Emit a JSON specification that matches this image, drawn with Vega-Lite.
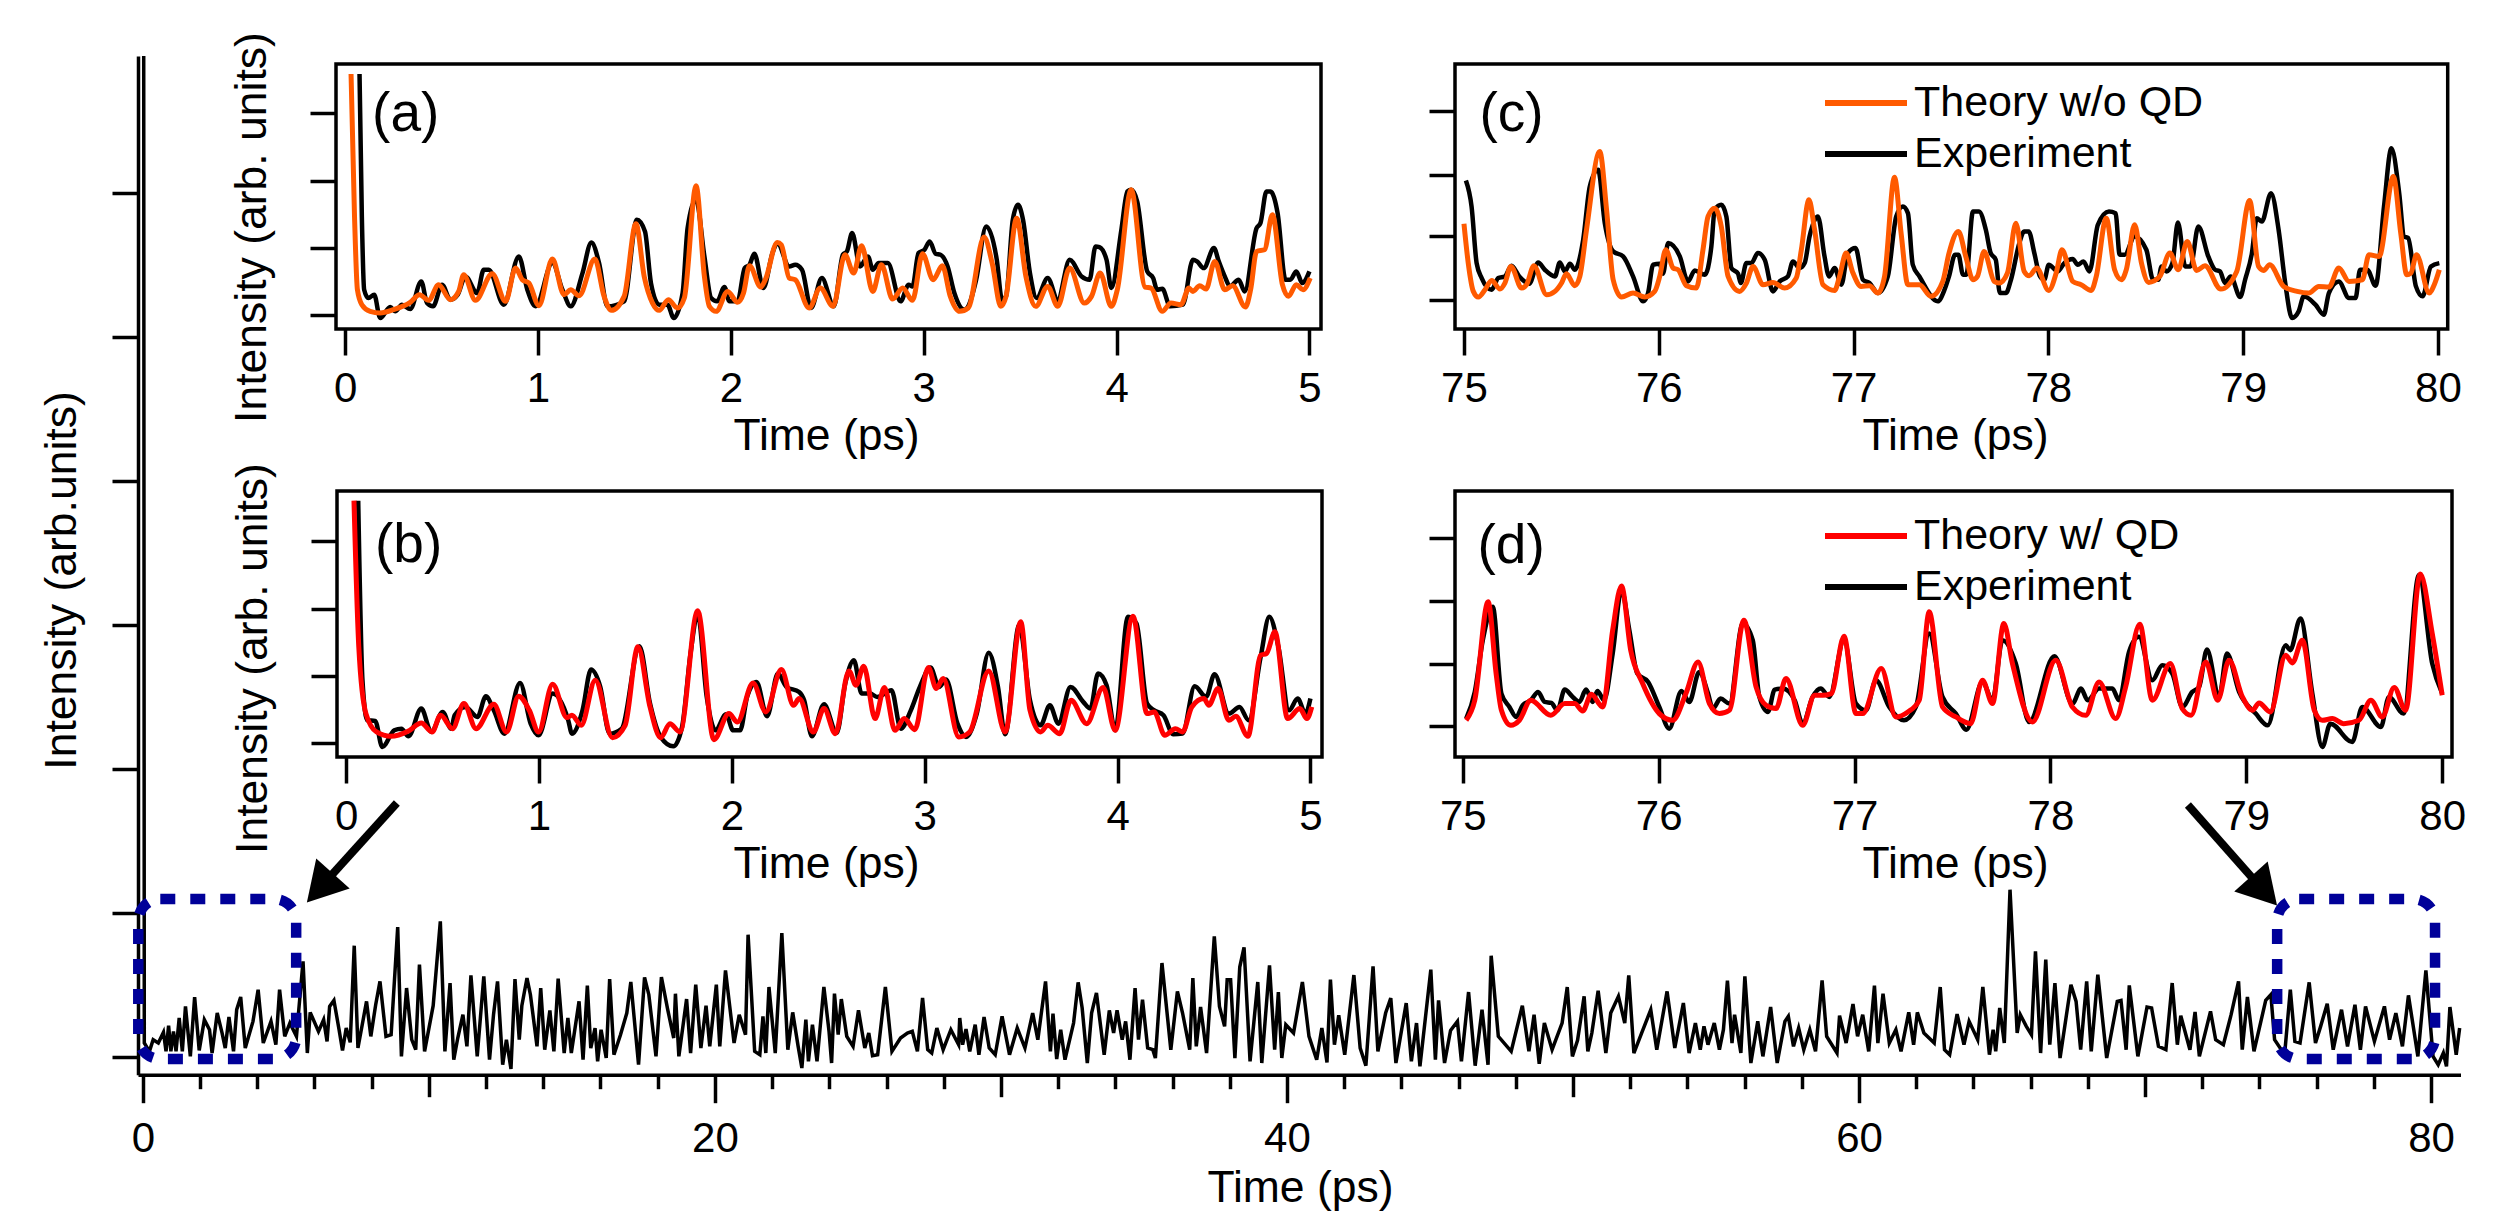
{
"$schema":"https://vega.github.io/schema/vega-lite/v6.json",
"width":2500,"height":1222,"padding":0,"autosize":{"type":"none"},"background":"white",
"config":{"view":{"stroke":null},
"axis":{"labelFont":"Liberation Sans","titleFont":"Liberation Sans","labelFontSize":42,"titleFontSize":44.5,"titleFontWeight":"normal","tickColor":"black","tickWidth":3.5,"tickSize":26,"labelColor":"black","titleColor":"black","grid":false,"domain":false,"labelFlush":false,"labelOverlap":false,"labelPadding":13,"titleBaseline":"alphabetic","titleAnchor":null,"titleAlign":"center"},
"text":{"font":"Liberation Sans","fontSize":55,"baseline":"alphabetic","align":"left","color":"black"},
"legend":{"labelFont":"Liberation Sans","labelFontSize":43,"labelColor":"black","labelLimit":600,"padding":0,"symbolType":"stroke","symbolSize":6724,"symbolStrokeWidth":6,"labelOffset":4,"rowPadding":3,"clipHeight":48,"orient":"none"}},
"datasets":{
"main":[{"t":0.03,"v":3003},{"t":0.05,"v":42},{"t":0.23,"v":17},{"t":0.36,"v":52},{"t":0.54,"v":42},{"t":0.72,"v":74},{"t":0.81,"v":17},{"t":0.9,"v":94},{"t":0.98,"v":17},{"t":1.07,"v":77},{"t":1.16,"v":17},{"t":1.27,"v":117},{"t":1.38,"v":17},{"t":1.49,"v":152},{"t":1.66,"v":2},{"t":1.81,"v":180},{"t":1.97,"v":20},{"t":2.15,"v":112},{"t":2.33,"v":82},{"t":2.42,"v":12},{"t":2.6,"v":132},{"t":2.77,"v":72},{"t":2.88,"v":27},{"t":3.01,"v":120},{"t":3.17,"v":17},{"t":3.28,"v":142},{"t":3.42,"v":180},{"t":3.58,"v":27},{"t":3.85,"v":107},{"t":4.03,"v":202},{"t":4.21,"v":42},{"t":4.48,"v":107},{"t":4.65,"v":37},{"t":4.78,"v":202},{"t":4.96,"v":62},{"t":5.14,"v":102},{"t":5.37,"v":62},{"t":5.6,"v":287},{"t":5.75,"v":12},{"t":5.85,"v":134},{"t":6.14,"v":77},{"t":6.32,"v":112},{"t":6.44,"v":47},{"t":6.53,"v":152},{"t":6.68,"v":170},{"t":6.86,"v":82},{"t":6.98,"v":20},{"t":7.11,"v":87},{"t":7.25,"v":44},{"t":7.39,"v":334},{"t":7.52,"v":27},{"t":7.82,"v":167},{"t":7.97,"v":62},{"t":8.14,"v":157},{"t":8.29,"v":227},{"t":8.5,"v":62},{"t":8.68,"v":67},{"t":8.91,"v":390},{"t":9.04,"v":2},{"t":9.22,"v":207},{"t":9.4,"v":52},{"t":9.54,"v":22},{"t":9.67,"v":277},{"t":9.85,"v":17},{"t":10.15,"v":154},{"t":10.4,"v":407},{"t":10.56,"v":17},{"t":10.74,"v":222},{"t":10.87,"v":-8},{"t":11.01,"v":57},{"t":11.19,"v":127},{"t":11.33,"v":32},{"t":11.47,"v":245},{"t":11.69,"v":2},{"t":11.92,"v":242},{"t":12.12,"v":-8},{"t":12.26,"v":127},{"t":12.4,"v":227},{"t":12.58,"v":-23},{"t":12.71,"v":52},{"t":12.87,"v":-36},{"t":13.01,"v":234},{"t":13.16,"v":52},{"t":13.25,"v":154},{"t":13.43,"v":237},{"t":13.55,"v":187},{"t":13.78,"v":32},{"t":13.91,"v":207},{"t":14.05,"v":22},{"t":14.23,"v":140},{"t":14.37,"v":17},{"t":14.52,"v":235},{"t":14.73,"v":12},{"t":14.86,"v":117},{"t":14.98,"v":12},{"t":15.25,"v":167},{"t":15.39,"v":-8},{"t":15.54,"v":214},{"t":15.66,"v":27},{"t":15.81,"v":87},{"t":15.9,"v":-13},{"t":16.02,"v":82},{"t":16.2,"v":-3},{"t":16.32,"v":234},{"t":16.47,"v":7},{"t":16.7,"v":67},{"t":16.92,"v":132},{"t":17.06,"v":225},{"t":17.33,"v":-23},{"t":17.54,"v":239},{"t":17.69,"v":187},{"t":17.94,"v":2},{"t":18.13,"v":240},{"t":18.35,"v":142},{"t":18.56,"v":57},{"t":18.62,"v":190},{"t":18.74,"v":2},{"t":19.01,"v":174},{"t":19.15,"v":12},{"t":19.33,"v":217},{"t":19.51,"v":27},{"t":19.69,"v":154},{"t":19.82,"v":32},{"t":20.05,"v":217},{"t":20.17,"v":32},{"t":20.37,"v":260},{"t":20.67,"v":42},{"t":20.85,"v":127},{"t":21.07,"v":67},{"t":21.16,"v":367},{"t":21.39,"v":17},{"t":21.57,"v":7},{"t":21.68,"v":122},{"t":21.78,"v":12},{"t":21.89,"v":210},{"t":22.11,"v":12},{"t":22.34,"v":372},{"t":22.55,"v":22},{"t":22.72,"v":134},{"t":22.91,"v":32},{"t":23.04,"v":-33},{"t":23.18,"v":112},{"t":23.27,"v":-13},{"t":23.41,"v":97},{"t":23.57,"v":-13},{"t":23.81,"v":210},{"t":23.99,"v":77},{"t":24.08,"v":-18},{"t":24.18,"v":190},{"t":24.31,"v":67},{"t":24.42,"v":174},{"t":24.61,"v":62},{"t":24.83,"v":32},{"t":25.02,"v":140},{"t":25.24,"v":27},{"t":25.38,"v":72},{"t":25.51,"v":4},{"t":25.69,"v":7},{"t":25.96,"v":210},{"t":26.19,"v":17},{"t":26.49,"v":57},{"t":26.73,"v":72},{"t":26.9,"v":77},{"t":27.08,"v":17},{"t":27.26,"v":177},{"t":27.44,"v":22},{"t":27.58,"v":12},{"t":27.76,"v":87},{"t":27.98,"v":22},{"t":28.25,"v":82},{"t":28.52,"v":37},{"t":28.56,"v":117},{"t":28.66,"v":37},{"t":28.78,"v":84},{"t":28.91,"v":17},{"t":29.1,"v":97},{"t":29.23,"v":7},{"t":29.41,"v":120},{"t":29.59,"v":27},{"t":29.8,"v":7},{"t":30.04,"v":122},{"t":30.3,"v":7},{"t":30.57,"v":87},{"t":30.84,"v":27},{"t":31.11,"v":132},{"t":31.29,"v":52},{"t":31.56,"v":227},{"t":31.73,"v":17},{"t":31.82,"v":130},{"t":31.95,"v":-6},{"t":32.09,"v":82},{"t":32.24,"v":-8},{"t":32.54,"v":102},{"t":32.7,"v":224},{"t":32.84,"v":147},{"t":33.02,"v":-18},{"t":33.17,"v":132},{"t":33.34,"v":192},{"t":33.61,"v":7},{"t":33.79,"v":140},{"t":33.94,"v":72},{"t":34.06,"v":140},{"t":34.24,"v":52},{"t":34.36,"v":107},{"t":34.51,"v":-8},{"t":34.69,"v":207},{"t":34.81,"v":52},{"t":34.95,"v":172},{"t":35.13,"v":27},{"t":35.31,"v":22},{"t":35.4,"v":-3},{"t":35.63,"v":282},{"t":35.94,"v":22},{"t":36.17,"v":197},{"t":36.35,"v":132},{"t":36.6,"v":22},{"t":36.71,"v":237},{"t":36.83,"v":32},{"t":36.98,"v":150},{"t":37.19,"v":12},{"t":37.46,"v":362},{"t":37.64,"v":152},{"t":37.82,"v":92},{"t":37.91,"v":232},{"t":38.03,"v":232},{"t":38.18,"v":-3},{"t":38.35,"v":270},{"t":38.5,"v":329},{"t":38.71,"v":-13},{"t":38.98,"v":225},{"t":39.12,"v":-18},{"t":39.39,"v":275},{"t":39.57,"v":22},{"t":39.7,"v":195},{"t":39.82,"v":-3},{"t":39.96,"v":97},{"t":40.23,"v":72},{"t":40.54,"v":225},{"t":40.77,"v":62},{"t":41.04,"v":-8},{"t":41.22,"v":87},{"t":41.4,"v":-16},{"t":41.52,"v":232},{"t":41.66,"v":37},{"t":41.81,"v":125},{"t":42.02,"v":7},{"t":42.34,"v":246},{"t":42.56,"v":27},{"t":42.76,"v":-26},{"t":43.01,"v":272},{"t":43.18,"v":17},{"t":43.45,"v":132},{"t":43.63,"v":177},{"t":43.81,"v":-18},{"t":44.17,"v":162},{"t":44.35,"v":-13},{"t":44.53,"v":102},{"t":44.65,"v":-28},{"t":45.03,"v":262},{"t":45.19,"v":-8},{"t":45.3,"v":170},{"t":45.51,"v":-18},{"t":45.72,"v":80},{"t":45.96,"v":107},{"t":46.1,"v":-13},{"t":46.35,"v":195},{"t":46.58,"v":-26},{"t":46.82,"v":142},{"t":47.03,"v":-23},{"t":47.14,"v":304},{"t":47.39,"v":62},{"t":47.84,"v":17},{"t":48.23,"v":154},{"t":48.46,"v":17},{"t":48.64,"v":127},{"t":48.82,"v":-20},{"t":49,"v":102},{"t":49.27,"v":22},{"t":49.62,"v":102},{"t":49.8,"v":210},{"t":49.98,"v":2},{"t":50.16,"v":50},{"t":50.39,"v":182},{"t":50.52,"v":17},{"t":50.66,"v":72},{"t":50.88,"v":199},{"t":51.15,"v":12},{"t":51.32,"v":132},{"t":51.59,"v":182},{"t":51.81,"v":102},{"t":51.95,"v":245},{"t":52.13,"v":12},{"t":52.4,"v":72},{"t":52.72,"v":142},{"t":52.93,"v":22},{"t":53.29,"v":197},{"t":53.56,"v":27},{"t":53.86,"v":162},{"t":54.06,"v":12},{"t":54.28,"v":102},{"t":54.45,"v":22},{"t":54.58,"v":92},{"t":54.72,"v":37},{"t":54.94,"v":102},{"t":55.12,"v":22},{"t":55.26,"v":82},{"t":55.4,"v":229},{"t":55.56,"v":42},{"t":55.65,"v":127},{"t":55.87,"v":12},{"t":56.01,"v":242},{"t":56.22,"v":-18},{"t":56.46,"v":107},{"t":56.64,"v":2},{"t":56.91,"v":150},{"t":57.14,"v":-18},{"t":57.41,"v":107},{"t":57.53,"v":122},{"t":57.71,"v":32},{"t":57.89,"v":87},{"t":58.07,"v":22},{"t":58.28,"v":82},{"t":58.48,"v":17},{"t":58.71,"v":230},{"t":58.87,"v":62},{"t":59.23,"v":12},{"t":59.32,"v":124},{"t":59.55,"v":42},{"t":59.79,"v":159},{"t":59.95,"v":62},{"t":60.13,"v":127},{"t":60.34,"v":17},{"t":60.54,"v":214},{"t":60.66,"v":42},{"t":60.84,"v":190},{"t":61.06,"v":42},{"t":61.29,"v":82},{"t":61.47,"v":17},{"t":61.74,"v":134},{"t":61.91,"v":37},{"t":62.04,"v":134},{"t":62.27,"v":72},{"t":62.63,"v":42},{"t":62.84,"v":210},{"t":62.99,"v":22},{"t":63.17,"v":7},{"t":63.43,"v":129},{"t":63.67,"v":37},{"t":63.85,"v":107},{"t":64.15,"v":52},{"t":64.33,"v":210},{"t":64.56,"v":7},{"t":64.69,"v":82},{"t":64.78,"v":17},{"t":64.92,"v":147},{"t":65.08,"v":42},{"t":65.28,"v":502},{"t":65.53,"v":72},{"t":65.64,"v":127},{"t":65.85,"v":92},{"t":66.03,"v":67},{"t":66.17,"v":317},{"t":66.35,"v":12},{"t":66.53,"v":292},{"t":66.67,"v":37},{"t":66.85,"v":222},{"t":67.03,"v":-3},{"t":67.41,"v":217},{"t":67.59,"v":167},{"t":67.75,"v":22},{"t":67.96,"v":227},{"t":68.12,"v":17},{"t":68.35,"v":247},{"t":68.66,"v":-3},{"t":69.03,"v":167},{"t":69.16,"v":170},{"t":69.34,"v":22},{"t":69.45,"v":215},{"t":69.75,"v":2},{"t":70.07,"v":150},{"t":70.23,"v":147},{"t":70.47,"v":32},{"t":70.73,"v":22},{"t":70.95,"v":222},{"t":71.13,"v":37},{"t":71.25,"v":124},{"t":71.57,"v":22},{"t":71.75,"v":135},{"t":71.9,"v":2},{"t":72.29,"v":137},{"t":72.47,"v":52},{"t":72.74,"v":37},{"t":73.01,"v":127},{"t":73.27,"v":227},{"t":73.4,"v":22},{"t":73.58,"v":180},{"t":73.81,"v":17},{"t":74.22,"v":170},{"t":74.4,"v":187},{"t":74.53,"v":52},{"t":74.88,"v":7},{"t":75.08,"v":202},{"t":75.24,"v":47},{"t":75.42,"v":42},{"t":75.74,"v":224},{"t":75.96,"v":42},{"t":76.14,"v":92},{"t":76.37,"v":160},{"t":76.58,"v":22},{"t":76.87,"v":142},{"t":77.08,"v":32},{"t":77.34,"v":157},{"t":77.53,"v":22},{"t":77.71,"v":152},{"t":78.02,"v":47},{"t":78.37,"v":152},{"t":78.55,"v":52},{"t":78.77,"v":132},{"t":79,"v":32},{"t":79.21,"v":185},{"t":79.54,"v":2},{"t":79.82,"v":260},{"t":80.07,"v":2},{"t":80.25,"v":-23},{"t":80.43,"v":12},{"t":80.54,"v":-28},{"t":80.66,"v":150},{"t":80.88,"v":7},{"t":81,"v":87}],
"a_exp":[{"t":0.075,"v":725},{"t":0.087,"v":297},{"t":0.099,"v":77},{"t":0.121,"v":52},{"t":0.151,"v":62},{"t":0.182,"v":-8},{"t":0.234,"v":25},{"t":0.26,"v":12},{"t":0.295,"v":32},{"t":0.338,"v":19},{"t":0.395,"v":102},{"t":0.425,"v":37},{"t":0.456,"v":27},{"t":0.503,"v":92},{"t":0.546,"v":47},{"t":0.584,"v":62},{"t":0.624,"v":117},{"t":0.685,"v":67},{"t":0.719,"v":137},{"t":0.745,"v":137},{"t":0.823,"v":32},{"t":0.901,"v":177},{"t":0.945,"v":77},{"t":0.988,"v":27},{"t":1.075,"v":157},{"t":1.127,"v":77},{"t":1.17,"v":27},{"t":1.231,"v":127},{"t":1.277,"v":219},{"t":1.317,"v":157},{"t":1.36,"v":27},{"t":1.447,"v":42},{"t":1.513,"v":287},{"t":1.555,"v":252},{"t":1.586,"v":97},{"t":1.629,"v":32},{"t":1.672,"v":32},{"t":1.704,"v":-8},{"t":1.75,"v":67},{"t":1.776,"v":262},{"t":1.82,"v":347},{"t":1.863,"v":177},{"t":1.898,"v":52},{"t":1.929,"v":42},{"t":1.967,"v":85},{"t":1.993,"v":42},{"t":2.035,"v":42},{"t":2.072,"v":142},{"t":2.097,"v":152},{"t":2.122,"v":185},{"t":2.169,"v":82},{"t":2.216,"v":187},{"t":2.241,"v":217},{"t":2.303,"v":147},{"t":2.334,"v":152},{"t":2.369,"v":137},{"t":2.416,"v":22},{"t":2.472,"v":112},{"t":2.534,"v":27},{"t":2.581,"v":182},{"t":2.602,"v":192},{"t":2.629,"v":247},{"t":2.67,"v":147},{"t":2.711,"v":177},{"t":2.736,"v":137},{"t":2.767,"v":157},{"t":2.814,"v":157},{"t":2.88,"v":42},{"t":2.922,"v":92},{"t":2.942,"v":87},{"t":2.973,"v":187},{"t":3.004,"v":197},{"t":3.031,"v":222},{"t":3.062,"v":185},{"t":3.087,"v":182},{"t":3.124,"v":147},{"t":3.159,"v":67},{"t":3.21,"v":17},{"t":3.231,"v":27},{"t":3.272,"v":107},{"t":3.324,"v":267},{"t":3.379,"v":167},{"t":3.406,"v":47},{"t":3.427,"v":57},{"t":3.462,"v":287},{"t":3.489,"v":332},{"t":3.515,"v":287},{"t":3.551,"v":127},{"t":3.586,"v":52},{"t":3.643,"v":112},{"t":3.695,"v":47},{"t":3.757,"v":167},{"t":3.819,"v":117},{"t":3.86,"v":107},{"t":3.891,"v":207},{"t":3.911,"v":205},{"t":3.948,"v":167},{"t":3.973,"v":82},{"t":4.025,"v":257},{"t":4.056,"v":372},{"t":4.076,"v":377},{"t":4.107,"v":342},{"t":4.159,"v":132},{"t":4.19,"v":112},{"t":4.21,"v":77},{"t":4.237,"v":80},{"t":4.278,"v":27},{"t":4.344,"v":32},{"t":4.396,"v":167},{"t":4.417,"v":162},{"t":4.452,"v":142},{"t":4.505,"v":202},{"t":4.53,"v":162},{"t":4.561,"v":117},{"t":4.588,"v":87},{"t":4.633,"v":107},{"t":4.664,"v":72},{"t":4.726,"v":262},{"t":4.746,"v":277},{"t":4.777,"v":372},{"t":4.798,"v":372},{"t":4.835,"v":307},{"t":4.876,"v":107},{"t":4.901,"v":107},{"t":4.932,"v":132},{"t":4.963,"v":97},{"t":5,"v":132}],
"a_th":[{"t":0.031,"v":725},{"t":0.049,"v":297},{"t":0.064,"v":77},{"t":0.087,"v":32},{"t":0.13,"v":12},{"t":0.182,"v":7},{"t":0.251,"v":17},{"t":0.338,"v":39},{"t":0.386,"v":62},{"t":0.433,"v":45},{"t":0.485,"v":92},{"t":0.546,"v":47},{"t":0.589,"v":72},{"t":0.615,"v":122},{"t":0.676,"v":45},{"t":0.763,"v":125},{"t":0.832,"v":42},{"t":0.884,"v":142},{"t":0.919,"v":107},{"t":0.953,"v":97},{"t":1.005,"v":29},{"t":1.075,"v":169},{"t":1.135,"v":62},{"t":1.17,"v":77},{"t":1.213,"v":59},{"t":1.295,"v":169},{"t":1.343,"v":57},{"t":1.381,"v":15},{"t":1.447,"v":57},{"t":1.508,"v":275},{"t":1.551,"v":117},{"t":1.594,"v":37},{"t":1.629,"v":15},{"t":1.676,"v":47},{"t":1.724,"v":22},{"t":1.759,"v":52},{"t":1.82,"v":389},{"t":1.863,"v":117},{"t":1.889,"v":27},{"t":1.924,"v":12},{"t":1.984,"v":72},{"t":2.035,"v":39},{"t":2.066,"v":67},{"t":2.097,"v":149},{"t":2.155,"v":85},{"t":2.179,"v":107},{"t":2.241,"v":219},{"t":2.262,"v":212},{"t":2.303,"v":112},{"t":2.334,"v":107},{"t":2.406,"v":22},{"t":2.464,"v":82},{"t":2.53,"v":27},{"t":2.592,"v":182},{"t":2.637,"v":127},{"t":2.678,"v":209},{"t":2.736,"v":72},{"t":2.781,"v":152},{"t":2.839,"v":49},{"t":2.891,"v":82},{"t":2.942,"v":45},{"t":2.994,"v":185},{"t":3.049,"v":107},{"t":3.097,"v":149},{"t":3.138,"v":57},{"t":3.186,"v":12},{"t":3.231,"v":22},{"t":3.313,"v":235},{"t":3.355,"v":157},{"t":3.4,"v":27},{"t":3.427,"v":57},{"t":3.482,"v":292},{"t":3.53,"v":117},{"t":3.581,"v":27},{"t":3.643,"v":87},{"t":3.695,"v":27},{"t":3.757,"v":142},{"t":3.833,"v":37},{"t":3.87,"v":57},{"t":3.915,"v":127},{"t":3.973,"v":27},{"t":4.004,"v":77},{"t":4.076,"v":377},{"t":4.148,"v":85},{"t":4.179,"v":82},{"t":4.237,"v":12},{"t":4.282,"v":37},{"t":4.334,"v":32},{"t":4.375,"v":82},{"t":4.396,"v":72},{"t":4.431,"v":89},{"t":4.464,"v":79},{"t":4.509,"v":162},{"t":4.561,"v":77},{"t":4.602,"v":89},{"t":4.668,"v":25},{"t":4.695,"v":77},{"t":4.726,"v":192},{"t":4.767,"v":197},{"t":4.808,"v":302},{"t":4.86,"v":92},{"t":4.891,"v":57},{"t":4.932,"v":92},{"t":4.967,"v":77},{"t":5.004,"v":112}],
"b_exp":[{"t":0.063,"v":727},{"t":0.085,"v":189},{"t":0.11,"v":69},{"t":0.151,"v":67},{"t":0.188,"v":-11},{"t":0.25,"v":39},{"t":0.287,"v":44},{"t":0.324,"v":21},{"t":0.39,"v":104},{"t":0.442,"v":34},{"t":0.501,"v":94},{"t":0.545,"v":44},{"t":0.563,"v":84},{"t":0.619,"v":109},{"t":0.681,"v":79},{"t":0.725,"v":141},{"t":0.766,"v":99},{"t":0.821,"v":29},{"t":0.902,"v":181},{"t":0.957,"v":59},{"t":0.998,"v":24},{"t":1.071,"v":149},{"t":1.152,"v":69},{"t":1.171,"v":29},{"t":1.226,"v":99},{"t":1.27,"v":221},{"t":1.318,"v":169},{"t":1.366,"v":29},{"t":1.429,"v":44},{"t":1.521,"v":291},{"t":1.576,"v":119},{"t":1.631,"v":19},{"t":1.697,"v":-9},{"t":1.742,"v":49},{"t":1.786,"v":269},{"t":1.823,"v":389},{"t":1.87,"v":139},{"t":1.915,"v":39},{"t":1.97,"v":87},{"t":2.007,"v":39},{"t":2.043,"v":39},{"t":2.08,"v":141},{"t":2.128,"v":184},{"t":2.183,"v":81},{"t":2.239,"v":209},{"t":2.283,"v":169},{"t":2.349,"v":154},{"t":2.375,"v":129},{"t":2.415,"v":21},{"t":2.478,"v":117},{"t":2.544,"v":31},{"t":2.588,"v":179},{"t":2.633,"v":249},{"t":2.673,"v":149},{"t":2.717,"v":149},{"t":2.754,"v":139},{"t":2.828,"v":159},{"t":2.876,"v":44},{"t":2.927,"v":97},{"t":2.975,"v":169},{"t":3.03,"v":227},{"t":3.074,"v":169},{"t":3.111,"v":191},{"t":3.17,"v":59},{"t":3.214,"v":19},{"t":3.27,"v":89},{"t":3.332,"v":271},{"t":3.38,"v":169},{"t":3.417,"v":27},{"t":3.49,"v":354},{"t":3.546,"v":129},{"t":3.601,"v":54},{"t":3.649,"v":114},{"t":3.693,"v":59},{"t":3.756,"v":169},{"t":3.822,"v":124},{"t":3.859,"v":104},{"t":3.899,"v":209},{"t":3.943,"v":174},{"t":3.988,"v":39},{"t":4.054,"v":379},{"t":4.098,"v":359},{"t":4.153,"v":119},{"t":4.19,"v":99},{"t":4.238,"v":84},{"t":4.289,"v":27},{"t":4.337,"v":29},{"t":4.4,"v":171},{"t":4.459,"v":139},{"t":4.503,"v":207},{"t":4.577,"v":89},{"t":4.632,"v":109},{"t":4.68,"v":69},{"t":4.742,"v":259},{"t":4.787,"v":379},{"t":4.834,"v":289},{"t":4.889,"v":99},{"t":4.934,"v":134},{"t":4.974,"v":89},{"t":5,"v":134}],
"b_th":[{"t":0.041,"v":727},{"t":0.066,"v":289},{"t":0.103,"v":89},{"t":0.158,"v":34},{"t":0.232,"v":21},{"t":0.324,"v":37},{"t":0.39,"v":61},{"t":0.446,"v":34},{"t":0.49,"v":84},{"t":0.552,"v":44},{"t":0.611,"v":119},{"t":0.674,"v":44},{"t":0.766,"v":117},{"t":0.832,"v":34},{"t":0.895,"v":141},{"t":0.95,"v":99},{"t":0.998,"v":34},{"t":1.071,"v":177},{"t":1.145,"v":77},{"t":1.171,"v":84},{"t":1.219,"v":54},{"t":1.292,"v":189},{"t":1.381,"v":17},{"t":1.447,"v":54},{"t":1.513,"v":289},{"t":1.576,"v":109},{"t":1.631,"v":17},{"t":1.679,"v":59},{"t":1.731,"v":34},{"t":1.823,"v":397},{"t":1.907,"v":11},{"t":1.985,"v":89},{"t":2.029,"v":64},{"t":2.11,"v":181},{"t":2.176,"v":94},{"t":2.257,"v":221},{"t":2.32,"v":114},{"t":2.349,"v":134},{"t":2.423,"v":34},{"t":2.478,"v":104},{"t":2.537,"v":29},{"t":2.607,"v":217},{"t":2.644,"v":174},{"t":2.684,"v":231},{"t":2.743,"v":74},{"t":2.791,"v":167},{"t":2.846,"v":39},{"t":2.894,"v":74},{"t":2.949,"v":41},{"t":3.019,"v":227},{"t":3.06,"v":164},{"t":3.096,"v":194},{"t":3.177,"v":19},{"t":3.233,"v":34},{"t":3.332,"v":217},{"t":3.417,"v":34},{"t":3.498,"v":364},{"t":3.546,"v":99},{"t":3.601,"v":34},{"t":3.638,"v":54},{"t":3.7,"v":29},{"t":3.759,"v":129},{"t":3.84,"v":59},{"t":3.925,"v":167},{"t":3.988,"v":39},{"t":4.08,"v":381},{"t":4.153,"v":89},{"t":4.19,"v":94},{"t":4.245,"v":24},{"t":4.3,"v":44},{"t":4.337,"v":34},{"t":4.385,"v":109},{"t":4.448,"v":134},{"t":4.473,"v":114},{"t":4.521,"v":164},{"t":4.577,"v":69},{"t":4.613,"v":81},{"t":4.676,"v":21},{"t":4.742,"v":264},{"t":4.772,"v":269},{"t":4.816,"v":334},{"t":4.882,"v":74},{"t":4.945,"v":104},{"t":4.982,"v":74},{"t":5.007,"v":109}],
"c_exp":[{"t":75.01,"v":358},{"t":75.039,"v":280},{"t":75.065,"v":110},{"t":75.091,"v":65},{"t":75.142,"v":30},{"t":75.176,"v":65},{"t":75.21,"v":70},{"t":75.244,"v":102},{"t":75.284,"v":70},{"t":75.335,"v":48},{"t":75.381,"v":112},{"t":75.415,"v":90},{"t":75.467,"v":70},{"t":75.492,"v":112},{"t":75.518,"v":85},{"t":75.544,"v":108},{"t":75.569,"v":90},{"t":75.612,"v":180},{"t":75.646,"v":340},{"t":75.689,"v":390},{"t":75.723,"v":230},{"t":75.766,"v":145},{"t":75.817,"v":130},{"t":75.868,"v":70},{"t":75.92,"v":-5},{"t":75.945,"v":20},{"t":75.971,"v":105},{"t":76.005,"v":108},{"t":76.022,"v":78},{"t":76.048,"v":170},{"t":76.108,"v":130},{"t":76.15,"v":55},{"t":76.185,"v":88},{"t":76.236,"v":75},{"t":76.27,"v":160},{"t":76.287,"v":270},{"t":76.321,"v":285},{"t":76.347,"v":250},{"t":76.373,"v":95},{"t":76.407,"v":78},{"t":76.421,"v":50},{"t":76.45,"v":110},{"t":76.475,"v":110},{"t":76.509,"v":140},{"t":76.544,"v":120},{"t":76.586,"v":25},{"t":76.621,"v":55},{"t":76.663,"v":70},{"t":76.689,"v":115},{"t":76.723,"v":95},{"t":76.749,"v":110},{"t":76.774,"v":190},{"t":76.817,"v":250},{"t":76.851,"v":130},{"t":76.874,"v":70},{"t":76.903,"v":95},{"t":76.937,"v":45},{"t":76.971,"v":140},{"t":77.01,"v":155},{"t":77.048,"v":60},{"t":77.082,"v":50},{"t":77.125,"v":20},{"t":77.176,"v":70},{"t":77.219,"v":250},{"t":77.253,"v":280},{"t":77.279,"v":260},{"t":77.304,"v":105},{"t":77.338,"v":70},{"t":77.432,"v":-5},{"t":77.467,"v":30},{"t":77.49,"v":70},{"t":77.521,"v":135},{"t":77.538,"v":135},{"t":77.562,"v":75},{"t":77.579,"v":75},{"t":77.613,"v":265},{"t":77.644,"v":265},{"t":77.679,"v":210},{"t":77.704,"v":140},{"t":77.73,"v":120},{"t":77.751,"v":20},{"t":77.782,"v":20},{"t":77.808,"v":60},{"t":77.851,"v":170},{"t":77.876,"v":205},{"t":77.899,"v":205},{"t":77.928,"v":140},{"t":77.957,"v":70},{"t":77.979,"v":60},{"t":78.002,"v":105},{"t":78.048,"v":85},{"t":78.082,"v":110},{"t":78.125,"v":122},{"t":78.151,"v":105},{"t":78.18,"v":115},{"t":78.211,"v":85},{"t":78.254,"v":225},{"t":78.311,"v":265},{"t":78.345,"v":260},{"t":78.366,"v":135},{"t":78.392,"v":135},{"t":78.443,"v":190},{"t":78.503,"v":150},{"t":78.538,"v":60},{"t":78.564,"v":60},{"t":78.581,"v":100},{"t":78.607,"v":85},{"t":78.637,"v":110},{"t":78.665,"v":232},{"t":78.703,"v":100},{"t":78.73,"v":100},{"t":78.77,"v":220},{"t":78.821,"v":130},{"t":78.856,"v":90},{"t":78.881,"v":85},{"t":78.907,"v":50},{"t":78.936,"v":70},{"t":78.985,"v":8},{"t":79.01,"v":60},{"t":79.045,"v":140},{"t":79.07,"v":245},{"t":79.096,"v":235},{"t":79.143,"v":320},{"t":79.182,"v":210},{"t":79.216,"v":50},{"t":79.251,"v":-55},{"t":79.285,"v":-35},{"t":79.311,"v":10},{"t":79.371,"v":-15},{"t":79.414,"v":-45},{"t":79.44,"v":20},{"t":79.491,"v":55},{"t":79.543,"v":5},{"t":79.577,"v":5},{"t":79.6,"v":90},{"t":79.637,"v":90},{"t":79.68,"v":42},{"t":79.723,"v":280},{"t":79.761,"v":455},{"t":79.801,"v":320},{"t":79.826,"v":190},{"t":79.847,"v":185},{"t":79.887,"v":40},{"t":79.921,"v":10},{"t":79.964,"v":100},{"t":80.007,"v":110}],
"c_th":[{"t":75,"v":228},{"t":75.022,"v":110},{"t":75.048,"v":25},{"t":75.074,"v":8},{"t":75.108,"v":30},{"t":75.142,"v":58},{"t":75.185,"v":32},{"t":75.21,"v":50},{"t":75.241,"v":100},{"t":75.296,"v":35},{"t":75.321,"v":45},{"t":75.359,"v":102},{"t":75.424,"v":15},{"t":75.467,"v":25},{"t":75.501,"v":50},{"t":75.526,"v":78},{"t":75.569,"v":42},{"t":75.595,"v":70},{"t":75.629,"v":210},{"t":75.697,"v":445},{"t":75.732,"v":270},{"t":75.766,"v":60},{"t":75.809,"v":8},{"t":75.868,"v":20},{"t":75.928,"v":8},{"t":75.979,"v":25},{"t":76.005,"v":70},{"t":76.036,"v":150},{"t":76.074,"v":95},{"t":76.099,"v":90},{"t":76.142,"v":42},{"t":76.193,"v":35},{"t":76.227,"v":150},{"t":76.253,"v":250},{"t":76.287,"v":275},{"t":76.321,"v":220},{"t":76.356,"v":70},{"t":76.415,"v":25},{"t":76.45,"v":50},{"t":76.484,"v":100},{"t":76.535,"v":45},{"t":76.586,"v":52},{"t":76.646,"v":35},{"t":76.706,"v":65},{"t":76.732,"v":150},{"t":76.771,"v":300},{"t":76.8,"v":210},{"t":76.843,"v":45},{"t":76.903,"v":28},{"t":76.928,"v":70},{"t":76.962,"v":140},{"t":76.997,"v":80},{"t":77.039,"v":40},{"t":77.082,"v":42},{"t":77.125,"v":20},{"t":77.159,"v":70},{"t":77.21,"v":368},{"t":77.244,"v":200},{"t":77.279,"v":45},{"t":77.338,"v":45},{"t":77.398,"v":10},{"t":77.458,"v":55},{"t":77.49,"v":140},{"t":77.538,"v":205},{"t":77.576,"v":130},{"t":77.613,"v":60},{"t":77.636,"v":70},{"t":77.67,"v":145},{"t":77.722,"v":55},{"t":77.747,"v":50},{"t":77.79,"v":80},{"t":77.833,"v":230},{"t":77.876,"v":85},{"t":77.902,"v":72},{"t":77.94,"v":95},{"t":78.002,"v":28},{"t":78.04,"v":80},{"t":78.07,"v":150},{"t":78.125,"v":55},{"t":78.168,"v":45},{"t":78.22,"v":28},{"t":78.246,"v":70},{"t":78.297,"v":245},{"t":78.34,"v":90},{"t":78.375,"v":60},{"t":78.4,"v":90},{"t":78.443,"v":225},{"t":78.478,"v":110},{"t":78.515,"v":52},{"t":78.572,"v":70},{"t":78.624,"v":140},{"t":78.667,"v":90},{"t":78.713,"v":175},{"t":78.761,"v":88},{"t":78.804,"v":102},{"t":78.885,"v":32},{"t":78.967,"v":85},{"t":79.033,"v":298},{"t":79.079,"v":100},{"t":79.105,"v":88},{"t":79.136,"v":105},{"t":79.208,"v":40},{"t":79.277,"v":25},{"t":79.337,"v":20},{"t":79.388,"v":40},{"t":79.44,"v":38},{"t":79.491,"v":95},{"t":79.543,"v":55},{"t":79.612,"v":60},{"t":79.646,"v":135},{"t":79.698,"v":130},{"t":79.771,"v":370},{"t":79.809,"v":200},{"t":79.84,"v":75},{"t":79.861,"v":80},{"t":79.89,"v":135},{"t":79.955,"v":20},{"t":79.981,"v":45},{"t":80.007,"v":90}],
"d_exp":[{"t":75.017,"v":23},{"t":75.061,"v":103},{"t":75.102,"v":258},{"t":75.153,"v":358},{"t":75.197,"v":98},{"t":75.238,"v":58},{"t":75.272,"v":28},{"t":75.306,"v":63},{"t":75.347,"v":78},{"t":75.384,"v":103},{"t":75.418,"v":73},{"t":75.452,"v":70},{"t":75.483,"v":48},{"t":75.52,"v":110},{"t":75.561,"v":88},{"t":75.595,"v":73},{"t":75.629,"v":110},{"t":75.663,"v":73},{"t":75.687,"v":106},{"t":75.721,"v":78},{"t":75.765,"v":218},{"t":75.81,"v":408},{"t":75.85,"v":288},{"t":75.891,"v":158},{"t":75.946,"v":133},{"t":76.003,"v":58},{"t":76.054,"v":-7},{"t":76.116,"v":106},{"t":76.156,"v":73},{"t":76.207,"v":163},{"t":76.252,"v":98},{"t":76.276,"v":53},{"t":76.316,"v":83},{"t":76.361,"v":68},{"t":76.429,"v":308},{"t":76.48,"v":258},{"t":76.514,"v":88},{"t":76.558,"v":43},{"t":76.592,"v":110},{"t":76.633,"v":113},{"t":76.694,"v":78},{"t":76.735,"v":8},{"t":76.786,"v":88},{"t":76.827,"v":113},{"t":76.871,"v":88},{"t":76.946,"v":258},{"t":77.007,"v":68},{"t":77.058,"v":48},{"t":77.109,"v":138},{"t":77.177,"v":58},{"t":77.252,"v":18},{"t":77.313,"v":58},{"t":77.381,"v":278},{"t":77.449,"v":88},{"t":77.517,"v":38},{"t":77.571,"v":-10},{"t":77.653,"v":133},{"t":77.704,"v":78},{"t":77.755,"v":258},{"t":77.823,"v":188},{"t":77.891,"v":13},{"t":78.02,"v":210},{"t":78.112,"v":68},{"t":78.156,"v":113},{"t":78.19,"v":78},{"t":78.248,"v":113},{"t":78.316,"v":113},{"t":78.35,"v":78},{"t":78.401,"v":223},{"t":78.452,"v":268},{"t":78.52,"v":138},{"t":78.571,"v":183},{"t":78.622,"v":158},{"t":78.673,"v":58},{"t":78.724,"v":103},{"t":78.759,"v":118},{"t":78.799,"v":230},{"t":78.861,"v":88},{"t":78.901,"v":218},{"t":78.963,"v":103},{"t":79.048,"v":38},{"t":79.109,"v":3},{"t":79.201,"v":243},{"t":79.224,"v":228},{"t":79.276,"v":323},{"t":79.337,"v":98},{"t":79.388,"v":-62},{"t":79.429,"v":8},{"t":79.541,"v":-47},{"t":79.592,"v":58},{"t":79.687,"v":-2},{"t":79.728,"v":88},{"t":79.803,"v":38},{"t":79.881,"v":453},{"t":79.949,"v":188},{"t":80,"v":98}],
"d_th":[{"t":75.017,"v":18},{"t":75.061,"v":78},{"t":75.129,"v":373},{"t":75.17,"v":158},{"t":75.197,"v":48},{"t":75.245,"v":3},{"t":75.289,"v":18},{"t":75.347,"v":78},{"t":75.449,"v":33},{"t":75.52,"v":68},{"t":75.571,"v":68},{"t":75.612,"v":46},{"t":75.656,"v":96},{"t":75.714,"v":58},{"t":75.765,"v":288},{"t":75.81,"v":420},{"t":75.857,"v":228},{"t":75.918,"v":128},{"t":76.003,"v":38},{"t":76.071,"v":18},{"t":76.139,"v":98},{"t":76.201,"v":193},{"t":76.259,"v":68},{"t":76.31,"v":38},{"t":76.361,"v":48},{"t":76.435,"v":318},{"t":76.497,"v":118},{"t":76.548,"v":63},{"t":76.599,"v":53},{"t":76.65,"v":143},{"t":76.735,"v":3},{"t":76.796,"v":93},{"t":76.837,"v":93},{"t":76.881,"v":98},{"t":76.946,"v":270},{"t":77.007,"v":38},{"t":77.041,"v":38},{"t":77.136,"v":173},{"t":77.211,"v":28},{"t":77.272,"v":43},{"t":77.33,"v":78},{"t":77.381,"v":343},{"t":77.449,"v":58},{"t":77.517,"v":28},{"t":77.592,"v":8},{"t":77.653,"v":138},{"t":77.704,"v":68},{"t":77.762,"v":308},{"t":77.806,"v":188},{"t":77.908,"v":13},{"t":78.027,"v":198},{"t":78.112,"v":58},{"t":78.18,"v":33},{"t":78.248,"v":133},{"t":78.333,"v":23},{"t":78.384,"v":118},{"t":78.456,"v":306},{"t":78.52,"v":78},{"t":78.612,"v":188},{"t":78.673,"v":53},{"t":78.718,"v":33},{"t":78.793,"v":193},{"t":78.854,"v":78},{"t":78.912,"v":198},{"t":78.98,"v":88},{"t":79.031,"v":48},{"t":79.065,"v":70},{"t":79.122,"v":43},{"t":79.201,"v":213},{"t":79.235,"v":190},{"t":79.286,"v":258},{"t":79.347,"v":48},{"t":79.388,"v":18},{"t":79.439,"v":23},{"t":79.497,"v":8},{"t":79.575,"v":18},{"t":79.636,"v":78},{"t":79.694,"v":28},{"t":79.755,"v":116},{"t":79.813,"v":48},{"t":79.888,"v":456},{"t":79.949,"v":278},{"t":80,"v":93}]
},
"resolve":{"scale":{"x":"independent","y":"independent","color":"independent"},"axis":{"x":"independent","y":"independent"},"legend":{"color":"independent"}},
"layer":[
{"encoding":{
"x":{"field":"t","type":"quantitative","scale":{"domain":[-0.17,81.03],"range":[138,2460.5],"nice":false,"zero":false},
"axis":{"orient":"bottom","offset":-147.3,"domain":true,"domainColor":"black","domainWidth":3.5,"values":[0,2,4,6,8,10,12,14,16,18,20,22,24,26,28,30,32,34,36,38,40,42,44,46,48,50,52,54,56,58,60,62,64,66,68,70,72,74,76,78,80],"tickSize":{"expr":"datum.value % 20 == 0 ? 28 : datum.value % 10 == 0 ? 22 : 14"},"labelExpr":"datum.value % 20 == 0 ? datum.label : ''","labelPadding":16,"title":"Time (ps)","titleX":1300,"titleY":127}},
"y":{"field":"v","type":"quantitative","scale":{"domain":[-53,3003],"range":[1074.7,56],"nice":false,"zero":false},
"axis":{"orient":"left","offset":-138,"domain":true,"domainColor":"black","domainWidth":3.5,"values":[0,432,864,1296,1728,2160,2592],"labels":false,"title":"Intensity (arb.units)","titleX":-63,"titleY":580}}},
"layer":[
{"data":{"name":"main"},"mark":{"type":"line","stroke":"black","strokeWidth":3.5}},
{"data":{"values":[{"t":-0.16,"t2":5.36,"v":-6,"v2":474},{"t":74.62,"t2":80.14,"v":-6,"v2":474}]},"mark":{"type":"rect","fill":null,"stroke":"#000099","strokeWidth":10.5,"strokeDash":[15,15],"cornerRadius":22},"encoding":{"x2":{"field":"t2"},"y2":{"field":"v2"}}},
{"data":{"values":[{"t":8.88,"t2":6.19,"v":762,"v2":507},{"t":71.5,"t2":74.16,"v":756,"v2":498}]},"mark":{"type":"rule","stroke":"black","strokeWidth":8},"encoding":{"x2":{"field":"t2"},"y2":{"field":"v2"}}},
{"data":{"values":[{"t":6.19,"v":507}]},"mark":{"type":"point","shape":"triangle-up","filled":true,"fill":"black","stroke":null,"opacity":1,"size":2025,"angle":222}},
{"data":{"values":[{"t":74.16,"v":498}]},"mark":{"type":"point","shape":"triangle-up","filled":true,"fill":"black","stroke":null,"opacity":1,"size":2025,"angle":138}}
]},
{"encoding":{
"x":{"field":"t","type":"quantitative","scale":{"domain":[-0.047,5.06],"range":[336,1321],"nice":false,"zero":false},
"axis":{"orient":"bottom","offset":-893,"values":[0,1,2,3,4,5],"format":"d","title":"Time (ps)","titleX":826,"titleY":120}},
"y":{"field":"v","type":"quantitative","scale":{"domain":[-41,755],"range":[329,64],"nice":false,"zero":false},
"axis":{"orient":"left","offset":-336,"values":[0,203,405,607],"labels":false,"title":"Intensity (arb. units)","titleX":-71,"titleY":227}}},
"layer":[
{"data":{"values":[{"t":-0.047,"t2":5.06,"v":-41,"v2":755}]},"mark":{"type":"rect","fill":null,"stroke":"black","strokeWidth":3.5},"encoding":{"x2":{"field":"t2"},"y2":{"field":"v2"}}},
{"data":{"name":"a_exp"},"mark":{"type":"line","stroke":"black","strokeWidth":4.5,"interpolate":"monotone"}},
{"data":{"name":"a_th"},"mark":{"type":"line","stroke":"#ff5a00","strokeWidth":5,"interpolate":"monotone"}},
{"data":{"values":[{"t":0.14,"v":554,"label":"(a)"}]},"mark":{"type":"text"},"encoding":{"text":{"field":"label"}}}
]},
{"encoding":{
"x":{"field":"t","type":"quantitative","scale":{"domain":[-0.047,5.06],"range":[337,1322],"nice":false,"zero":false},
"axis":{"orient":"bottom","offset":-465,"values":[0,1,2,3,4,5],"format":"d","title":"Time (ps)","titleX":826,"titleY":120}},
"y":{"field":"v","type":"quantitative","scale":{"domain":[-41,756],"range":[757,491],"nice":false,"zero":false},
"axis":{"orient":"left","offset":-337,"values":[0,202,402,607],"labels":false,"title":"Intensity (arb. units)","titleX":-71,"titleY":658}}},
"layer":[
{"data":{"values":[{"t":-0.047,"t2":5.06,"v":-41,"v2":756}]},"mark":{"type":"rect","fill":null,"stroke":"black","strokeWidth":3.5},"encoding":{"x2":{"field":"t2"},"y2":{"field":"v2"}}},
{"data":{"name":"b_exp"},"mark":{"type":"line","stroke":"black","strokeWidth":4.5,"interpolate":"monotone"}},
{"data":{"name":"b_th"},"mark":{"type":"line","stroke":"#ff0000","strokeWidth":5,"interpolate":"monotone"}},
{"data":{"values":[{"t":0.15,"v":544,"label":"(b)"}]},"mark":{"type":"text"},"encoding":{"text":{"field":"label"}}}
]},
{"encoding":{
"x":{"field":"t","type":"quantitative","scale":{"domain":[74.954,80.05],"range":[1455,2447.7],"nice":false,"zero":false},
"axis":{"orient":"bottom","offset":-893,"values":[75,76,77,78,79,80],"format":"d","title":"Time (ps)","titleX":1955,"titleY":120}},
"y":{"field":"v","type":"quantitative","scale":{"domain":[-88,708],"range":[329,64],"nice":false,"zero":false},
"axis":{"orient":"left","offset":-1455,"values":[0,190,375,568],"labels":false,"title":null}}},
"layer":[
{"data":{"values":[{"t":74.954,"t2":80.05,"v":-88,"v2":708}]},"mark":{"type":"rect","fill":null,"stroke":"black","strokeWidth":3.5},"encoding":{"x2":{"field":"t2"},"y2":{"field":"v2"}}},
{"data":{"name":"c_exp"},"mark":{"type":"line","strokeWidth":4.5,"interpolate":"monotone"},"encoding":{"color":{"datum":"Experiment","type":"nominal","scale":{"domain":["Theory w/o QD","Experiment"],"range":["#ff5a00","black"]},"legend":{"title":null,"legendX":1822,"legendY":79}}}},
{"data":{"name":"c_th"},"mark":{"type":"line","strokeWidth":5,"interpolate":"monotone"},"encoding":{"color":{"datum":"Theory w/o QD","type":"nominal","scale":{"domain":["Theory w/o QD","Experiment"],"range":["#ff5a00","black"]},"legend":{"title":null,"legendX":1822,"legendY":79}}}},
{"data":{"values":[{"t":75.08,"v":507,"label":"(c)"}]},"mark":{"type":"text"},"encoding":{"text":{"field":"label"}}}
]},
{"encoding":{
"x":{"field":"t","type":"quantitative","scale":{"domain":[74.96,80.05],"range":[1455,2452],"nice":false,"zero":false},
"axis":{"orient":"bottom","offset":-465,"values":[75,76,77,78,79,80],"format":"d","title":"Time (ps)","titleX":1955,"titleY":120}},
"y":{"field":"v","type":"quantitative","scale":{"domain":[-92,705],"range":[757,491],"nice":false,"zero":false},
"axis":{"orient":"left","offset":-1455,"values":[0,188,376,565],"labels":false,"title":null}}},
"layer":[
{"data":{"values":[{"t":74.96,"t2":80.05,"v":-92,"v2":705}]},"mark":{"type":"rect","fill":null,"stroke":"black","strokeWidth":3.5},"encoding":{"x2":{"field":"t2"},"y2":{"field":"v2"}}},
{"data":{"name":"d_exp"},"mark":{"type":"line","strokeWidth":4.5,"interpolate":"monotone"},"encoding":{"color":{"datum":"Experiment","type":"nominal","scale":{"domain":["Theory w/ QD","Experiment"],"range":["#ff0000","black"]},"legend":{"title":null,"legendX":1822,"legendY":512}}}},
{"data":{"name":"d_th"},"mark":{"type":"line","strokeWidth":5,"interpolate":"monotone"},"encoding":{"color":{"datum":"Theory w/ QD","type":"nominal","scale":{"domain":["Theory w/ QD","Experiment"],"range":["#ff0000","black"]},"legend":{"title":null,"legendX":1822,"legendY":512}}}},
{"data":{"values":[{"t":75.075,"v":490,"label":"(d)"}]},"mark":{"type":"text"},"encoding":{"text":{"field":"label"}}}
]}
]}
